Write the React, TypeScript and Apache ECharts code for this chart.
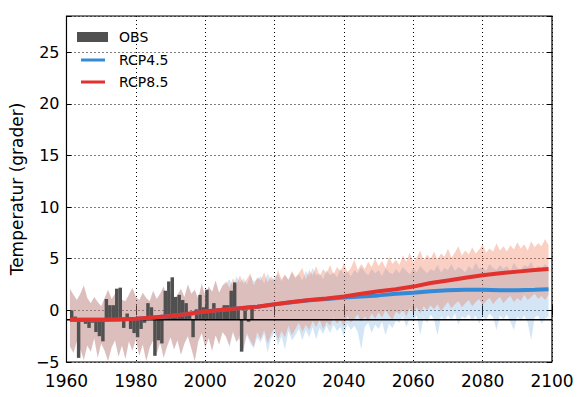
import React, { useEffect, useRef } from "react";
import * as echarts from "echarts";

// ---------- data ----------
const BASELINE = -0.9;

const obsYears = [
  1961, 1962, 1963, 1964, 1965, 1966, 1967, 1968, 1969, 1970,
  1971, 1972, 1973, 1974, 1975, 1976, 1977, 1978, 1979, 1980,
  1981, 1982, 1983, 1984, 1985, 1986, 1987, 1988, 1989, 1990,
  1991, 1992, 1993, 1994, 1995, 1996, 1997, 1998, 1999, 2000,
  2001, 2002, 2003, 2004, 2005, 2006, 2007, 2008, 2009, 2010,
  2011, 2012, 2013,
];
const obsValues = [
  0.0, -0.6, -4.6, -1.1, -1.3, -1.7, -1.2, -2.1, -2.5, -3.0,
  1.1, 0.5, 0.5, 2.1, 2.2, -1.7, -0.3, -1.8, -2.2, -2.6,
  -1.8, -1.2, 0.7, 0.3, -4.4, -2.9, -3.2, 1.9, 2.8, 3.2,
  1.3, 1.5, 1.0, 0.7, -0.15, -2.6, 0.1, 1.5, 0.3, 2.0,
  0.0, 0.7, 0.0, 0.1, 0.5, 0.5, 1.9, 2.7, 0.2, -4.0,
  0.0, -1.1, 0.5,
];

// model spread, historical part (1961-2005), shared by both scenarios
const histUpper = [
  2.1, 1.5, 1.0, 1.6, 2.4, 1.2, 0.7, 1.3, 0.8, 0.4,
  1.2, 2.0, 1.1, 1.6, 2.1, 1.0, 0.9, 1.5, 2.2, 1.3,
  1.0, 1.7, 1.2, 0.9, 1.9, 1.1, 1.6, 2.3, 1.2, 1.8,
  0.9, 1.5, 2.1, 1.3, 2.5, 1.6, 2.0, 1.1, 2.6, 1.4,
  2.3, 1.8, 2.9, 1.7, 2.4,
];
const histLower = [
  -3.5, -4.1, -3.0, -3.8, -4.8, -3.4, -4.0, -2.7, -4.6, -3.2,
  -3.9, -4.9, -3.6, -2.9, -4.5, -3.4, -4.7, -3.0, -3.9, -2.8,
  -4.4, -3.3, -4.9, -3.6, -2.9, -4.2, -3.1, -4.6, -3.5, -2.6,
  -3.8, -2.9, -4.3, -3.2, -2.5, -3.7, -4.9, -3.0, -2.2, -3.6,
  -2.7, -3.9, -2.4, -3.3, -2.1,
];

// scenario part (2006-2099)
const rcp85Upper = [
  2.8, 2.2, 3.1, 2.5, 3.4, 2.6, 3.0, 3.6, 2.4, 3.2,
  2.9, 3.7, 2.7, 3.3, 2.8, 3.9, 3.0, 3.5, 2.9, 3.8,
  3.2, 3.6, 4.1, 3.0, 3.9, 3.4, 4.3, 3.3, 4.0, 3.6,
  4.4, 3.5, 4.2, 3.8, 4.6, 3.7, 4.1, 4.9, 3.9, 4.5,
  4.0, 4.7, 4.2, 5.0, 4.3, 4.8, 4.1, 5.2, 4.5, 4.9,
  4.4, 5.3, 4.7, 5.6, 4.6, 5.1, 5.8, 4.8, 5.4, 5.0,
  5.7, 4.9, 5.5, 5.2, 6.0, 5.1, 5.6, 6.2, 5.3, 5.8,
  5.4, 6.1, 5.5, 5.9, 6.4, 5.6, 6.0, 5.7, 6.5, 5.8,
  6.2, 5.7, 6.3, 5.9, 6.6, 6.0, 6.4, 5.8, 6.7, 6.1,
  6.5, 6.2, 6.9, 6.3,
];
const rcp85Lower = [
  -2.6, -3.4, -2.0, -3.1, -2.4, -3.7, -2.2, -2.9, -3.5, -2.1,
  -2.8, -1.9, -3.2, -2.3, -1.7, -2.9, -2.0, -2.6, -1.5, -2.4,
  -1.8, -1.2, -2.1, -1.4, -1.9, -1.0, -1.6, -0.9, -1.8, -1.1,
  -1.5, -0.7, -1.3, -0.9, -1.6, -0.5, -1.2, -0.8, -0.4, -1.1,
  -0.6, -1.0, -0.3, -0.8, -0.2, -0.7, 0.0, -0.5, -0.9, -0.1,
  -0.4, 0.1, -0.6, 0.2, -0.2, 0.3, -0.3, 0.4, 0.0, 0.5,
  0.1, 0.6, -0.1, 0.4, 0.8, 0.2, 0.6, 0.9, 0.3, 0.7,
  1.0, 0.4, 0.8, 1.1, 0.5, 0.9, 1.2, 0.6, 1.0, 1.3,
  0.7, 1.1, 1.4, 0.8, 1.2, 0.9, 1.5, 1.0, 1.3, 1.6,
  1.1, 1.4, 1.0, 1.5,
];
const rcp45Upper = [
  2.6, 3.0, 2.3, 3.3, 2.7, 3.1, 2.5, 3.4, 2.8, 3.0,
  3.3, 2.6, 3.6, 2.9, 3.2, 3.5, 2.8, 3.4, 3.0, 3.7,
  3.1, 3.5, 2.9, 3.8, 3.3, 4.1, 3.4, 3.6, 3.0, 3.9,
  3.4, 3.7, 3.2, 4.0, 3.5, 3.8, 3.3, 3.9, 3.6, 4.2,
  3.7, 3.4, 4.0, 3.6, 3.9, 3.3, 4.1, 3.7, 3.5, 4.0,
  3.6, 4.2, 3.8, 3.5, 4.1, 3.7, 4.3, 3.9, 3.6, 4.0,
  3.8, 4.4, 3.7, 4.1, 3.9, 4.5, 3.8, 4.2, 4.0, 3.7,
  4.3, 3.9, 4.6, 4.0, 4.2, 3.8, 4.5, 4.1, 3.9, 4.4,
  4.0, 4.3, 3.8, 4.6, 4.1, 3.9, 4.4, 4.2, 4.7, 4.0,
  4.3, 4.1, 4.5, 4.2,
];
const rcp45Lower = [
  -2.5, -3.6, -2.2, -3.0, -2.8, -3.9, -2.4, -3.2, -3.7, -2.6,
  -3.1, -2.3, -4.1, -2.7, -2.2, -3.4, -2.5, -3.8, -2.0, -2.9,
  -2.4, -1.8, -2.9, -1.9, -2.6, -1.6, -2.8, -1.7, -2.3, -1.5,
  -2.2, -1.4, -2.0, -1.6, -2.5, -1.3, -1.9, -1.5, -2.1, -3.8,
  -1.6, -1.2, -2.2, -1.4, -1.8, -1.1, -2.4, -1.3, -1.7, -1.0,
  -1.2, -0.6, -1.6, -0.8, -1.1, -0.5, -2.4, -0.7, -1.2, -0.4,
  -0.9, -2.4, -0.6, -1.0, -0.5, -0.9, -0.3, -1.4, -0.6, -0.8,
  -0.4, -1.0, -0.5, -1.3, -0.6, -0.9, -0.3, -0.7, -1.9, -0.5,
  -0.9, -0.4, -1.1, -1.9, -0.6, -1.0, -0.5, -1.2, -2.9, -0.7,
  -0.5, -1.3, -0.8, -0.6,
];

// ensemble means
const meanYears = [
  1961, 1965, 1970, 1975, 1980, 1985, 1990, 1995, 2000, 2005,
  2010, 2015, 2020, 2025, 2030, 2035, 2040, 2045, 2050, 2055,
  2060, 2065, 2070, 2075, 2080, 2085, 2090, 2095, 2099,
];
const rcp85Mean = [
  -0.9, -0.9, -0.9, -0.88, -0.82, -0.7, -0.55, -0.35, -0.1, 0.05,
  0.2, 0.35, 0.6, 0.8, 1.0, 1.15, 1.35, 1.6, 1.85, 2.05,
  2.3, 2.65, 2.9, 3.15, 3.4, 3.6, 3.75, 3.9, 4.0,
];
const rcp45Mean = [
  -0.9, -0.9, -0.9, -0.88, -0.82, -0.7, -0.55, -0.35, -0.1, 0.05,
  0.2, 0.35, 0.58, 0.78, 0.97, 1.1, 1.25, 1.35, 1.45, 1.6,
  1.7, 1.85, 1.95, 2.0, 2.0, 1.95, 1.95, 2.0, 2.05,
];

const xTicks = { min: 1960, max: 2100, interval: 20 };
const yTicks = { min: -5, max: 28.5, interval: 5 };

// ---------- colours ----------
const OBS_COLOR = "#505050";
const BLUE = "#348ad6";
const RED = "#e3312d";
const FONT = "DejaVu Sans";

const bandYears = Array.from({ length: 2099 - 1961 + 1 }, (_, i) => 1961 + i);

function bandSeries(name: string, lo: number[], hi: number[], fill: string) {
  const data = bandYears.map((y, i) => [y, lo[i], hi[i]]);
  return {
    type: "custom",
    name,
    silent: true,
    data,
    encode: { x: 0, y: [1, 2] },
    renderItem: (params: any, api: any) => {
      if (params.dataIndex !== 0) return null;
      const top = data.map((d) => api.coord([d[0], d[2]]));
      const bot = data.map((d) => api.coord([d[0], d[1]])).reverse();
      return {
        type: "polygon",
        shape: { points: top.concat(bot) },
        style: { fill, stroke: "none" },
      };
    },
  };
}

export default function App() {
  const ref = useRef<HTMLDivElement>(null);

  useEffect(() => {
    if (!ref.current) return;
    const chart = echarts.init(ref.current, undefined, { renderer: "svg" });

    const lo45 = histLower.concat(rcp45Lower);
    const hi45 = histUpper.concat(rcp45Upper);
    const lo85 = histLower.concat(rcp85Lower);
    const hi85 = histUpper.concat(rcp85Upper);

    const fmtY = (v: number) => {
      if (Math.abs(v % 5) > 1e-9) return "";
      return v < 0 ? "\u2212" + Math.abs(v) : String(v);
    };
    const fmtX = (v: number) => String(v);

    const gridLine = { show: true, lineStyle: { color: "#000", width: 1, type: [1, 3] } };

    const option: any = {
      animation: false,
      textStyle: { fontFamily: FONT },
      grid: {
        left: 64,
        right: 26,
        top: 16,
        bottom: 35,
        show: true,
        borderColor: "#000",
        borderWidth: 1.2,
        backgroundColor: "transparent",
      },
      xAxis: [
        {
          type: "value",
          ...xTicks,
          axisLine: { show: false },
          axisTick: { show: true, inside: true, length: 5, lineStyle: { color: "#000" } },
          axisLabel: { color: "#000", fontSize: 17, margin: 10, fontFamily: FONT, formatter: fmtX },
          splitLine: gridLine,
        },
        {
          type: "value",
          position: "top",
          ...xTicks,
          axisLine: { show: false },
          axisTick: { show: true, inside: true, length: 5, lineStyle: { color: "#000" } },
          axisLabel: { show: false },
          splitLine: { show: false },
        },
      ],
      yAxis: [
        {
          type: "value",
          ...yTicks,
          name: "Temperatur (grader)",
          nameLocation: "middle",
          nameGap: 37,
          nameTextStyle: { color: "#000", fontSize: 17, fontFamily: FONT },
          axisLine: { show: false },
          axisTick: { show: true, inside: true, length: 5, lineStyle: { color: "#000" } },
          axisLabel: { color: "#000", fontSize: 16, margin: 7, formatter: fmtY, fontFamily: FONT, lineHeight: 16 },
          splitLine: gridLine,
        },
        {
          type: "value",
          position: "right",
          ...yTicks,
          axisLine: { show: false },
          axisTick: { show: true, inside: true, length: 5, lineStyle: { color: "#000" } },
          axisLabel: { show: false },
          splitLine: { show: false },
        },
      ],
      series: [
        bandSeries("RCP4.5 spread", lo45, hi45, "rgba(60,140,210,0.22)"),
        bandSeries("RCP8.5 spread", lo85, hi85, "rgba(240,100,60,0.3)"),
        {
          type: "custom",
          name: "OBS",
          data: obsYears.map((y, i) => [y, obsValues[i]]),
          encode: { x: 0, y: 1 },
          renderItem: (params: any, api: any) => {
            const yr = api.value(0);
            const v = api.value(1);
            const p0 = api.coord([yr, BASELINE]);
            const p1 = api.coord([yr + 1, v]);
            return {
              type: "rect",
              shape: {
                x: p0[0],
                y: Math.min(p0[1], p1[1]),
                width: p1[0] - p0[0],
                height: Math.abs(p1[1] - p0[1]),
              },
              style: { fill: OBS_COLOR },
            };
          },
        },
        {
          type: "line",
          name: "baseline",
          data: [
            [xTicks.min, BASELINE],
            [xTicks.max, BASELINE],
          ],
          showSymbol: false,
          symbol: "none",
          lineStyle: { color: "#000", width: 1.5 },
          silent: true,
        },
        {
          type: "line",
          name: "RCP4.5",
          data: meanYears.map((y, i) => [y, rcp45Mean[i]]),
          showSymbol: false,
          symbol: "none",
          lineStyle: { color: BLUE, width: 4 },
        },
        {
          type: "line",
          name: "RCP8.5",
          data: meanYears.map((y, i) => [y, rcp85Mean[i]]),
          showSymbol: false,
          symbol: "none",
          lineStyle: { color: RED, width: 4 },
        },
      ],
      graphic: [
        { type: "rect", shape: { x: 77, y: 32, width: 31, height: 10 }, style: { fill: OBS_COLOR } },
        { type: "line", shape: { x1: 81, y1: 60, x2: 105, y2: 60 }, style: { stroke: BLUE, lineWidth: 3 } },
        { type: "line", shape: { x1: 81, y1: 82, x2: 105, y2: 82 }, style: { stroke: RED, lineWidth: 3 } },
        { type: "text", x: 119, y: 37, style: { text: "OBS", fill: "#000", font: `14px "${FONT}"`, verticalAlign: "middle" } },
        { type: "text", x: 119, y: 60, style: { text: "RCP4.5", fill: "#000", font: `14px "${FONT}"`, verticalAlign: "middle" } },
        { type: "text", x: 119, y: 82, style: { text: "RCP8.5", fill: "#000", font: `14px "${FONT}"`, verticalAlign: "middle" } },
      ],
    };

    chart.setOption(option);
    return () => chart.dispose();
  }, []);

  return (
    <div
      ref={ref}
      style={{ position: "fixed", left: 0, top: 0, width: 578, height: 397, background: "#fff" }}
    />
  );
}
